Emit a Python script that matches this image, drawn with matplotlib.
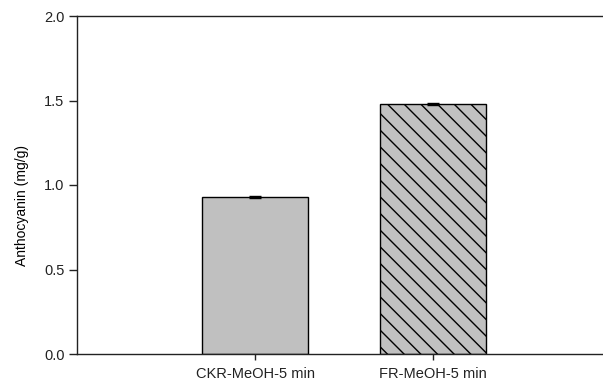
import matplotlib
matplotlib.use("Agg")
import matplotlib.pyplot as plt

plt.rcParams['font.family'] = ['Liberation Sans', 'DejaVu Sans']
plt.rcParams['hatch.linewidth'] = 1.0

categories = ["CKR-MeOH-5 min", "FR-MeOH-5 min"]
values = [0.93, 1.48]
errors = [0.004, 0.004]
hatches = ["", "\\\\"]

fig = plt.figure(figsize=(6.03, 3.85), dpi=100)
W, H = 603, 385
left, right, top, bottom = 77, 611, 16, 354
ax = fig.add_axes([left / W, 1 - bottom / H, (right - left) / W, (bottom - top) / H])

positions = [1, 2]
for p, v, e, h in zip(positions, values, errors, hatches):
    ax.bar(p, v, width=0.6, color="#c0c0c0", edgecolor="black", linewidth=1.0, hatch=h, zorder=2)
    ax.errorbar(p, v, yerr=e, fmt="none", ecolor="black", elinewidth=1, capsize=4, capthick=1, zorder=3)

ax.set_xlim(0, 3)
ax.set_ylim(0, 2.0)
ax.set_yticks([0.0, 0.5, 1.0, 1.5, 2.0])
ax.set_yticklabels(["0.0", "0.5", "1.0", "1.5", "2.0"])
ax.set_xticks(positions)
ax.set_xticklabels(categories)
ax.tick_params(axis="both", direction="out", labelsize=10.5, colors="#222222", width=1)
ax.tick_params(axis="y", length=6, pad=3)
ax.tick_params(axis="x", length=4, pad=5)
ax.set_ylabel("Anthocyanin (mg/g)", fontsize=10)
ax.yaxis.set_label_coords(-0.0905, 0.44)
for s in ["left", "top", "bottom", "right"]:
    ax.spines[s].set_color("#222222")
    ax.spines[s].set_linewidth(1.0)

fig.savefig("out.png", dpi=100)
